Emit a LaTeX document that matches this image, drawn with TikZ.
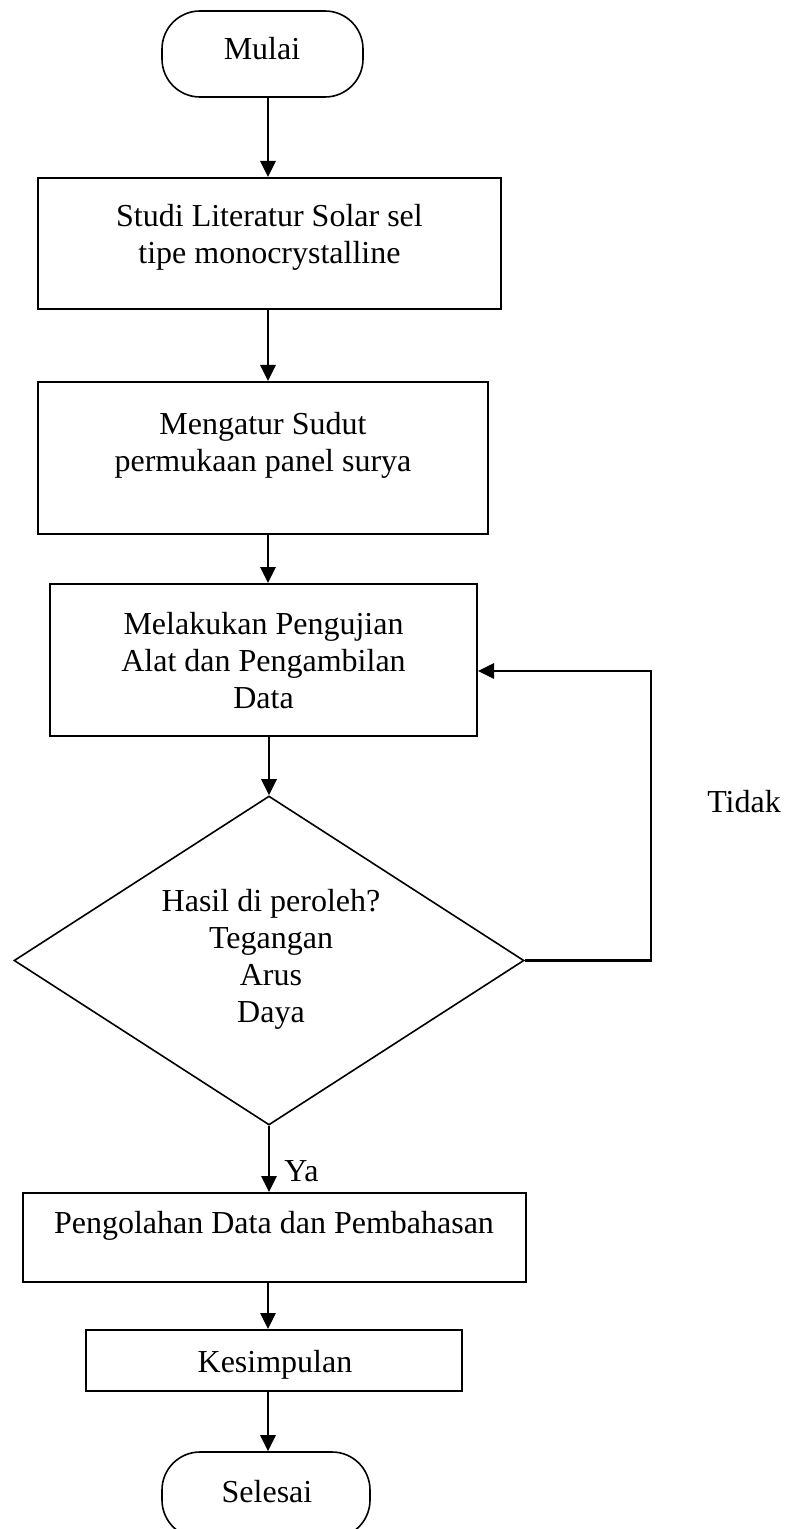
\documentclass[tikz,border=0pt]{standalone}
\usepackage{fontspec}
\setmainfont{Liberation Serif}
\usetikzlibrary{shapes.geometric,arrows.meta}
\begin{document}
\begin{tikzpicture}[x=0.5pt,y=-0.5pt,
 proses/.style={draw,line width=1pt,inner sep=0pt},
 ujung/.style={draw,line width=0.8pt,rounded corners=19pt,inner sep=0pt},
 putusan/.style={draw,diamond,line width=0.8pt,inner sep=0pt},
 teks/.style={align=center,font=\fontsize{16}{18.5}\selectfont},
 panah/.style={line width=1.4pt,-{Triangle[length=8pt,width=7.5pt]}}]
 \useasboundingbox (0,0) rectangle (790,1529);
 \coordinate (sumbu) at (268,0);
 \node[ujung,minimum width=100.5pt,minimum height=43pt] (mulai) at (262.5,54) {};
 \node[proses,minimum width=231.5pt,minimum height=65.5pt] (b1) at (269.5,243.5) {};
 \node[proses,minimum width=225pt,minimum height=76pt] (b2) at (263,458) {};
 \node[proses,minimum width=213.5pt,minimum height=76pt] (b3) at (263.5,660) {};
 \node[putusan,minimum width=255pt,minimum height=164.5pt] (hasil) at (269,960.5) {};
 \node[proses,minimum width=251.5pt,minimum height=44.5pt] (b4) at (274.5,1237.5) {};
 \node[proses,minimum width=188pt,minimum height=30.5pt] (b5) at (274,1360.5) {};
 \node[ujung,minimum width=104pt,minimum height=43pt] (selesai) at (266,1495) {};
 \node[teks] (tmulai) at (262,49) {Mulai};
 \node[teks] (tb1) at (269.5,237) {Studi Literatur Solar sel\\tipe monocrystalline};
 \node[teks] (tb2) at (263,445.5) {Mengatur Sudut\\permukaan panel surya};
 \node[teks] (tb3) at (263.5,660.5) {Melakukan Pengujian\\Alat dan Pengambilan\\Data};
 \node[teks] (thasil) at (271,959) {Hasil di peroleh?\\Tegangan\\Arus\\Daya};
 \node[teks] (tb4) at (274,1225.5) {Pengolahan Data dan Pembahasan};
 \node[teks] (tb5) at (275,1364.5) {Kesimpulan};
 \node[teks] (tselesai) at (267,1492) {Selesai};
 \node[teks] (tidak) at (744,802) {Tidak};
 \node[teks] (ya) at (301.5,1171.5) {Ya};
 \coordinate (balik) at (651,671);
 \draw[panah] (mulai.south -| sumbu) -- (b1.north -| sumbu);
 \draw[panah] (b1.south -| sumbu) -- (b2.north -| sumbu);
 \draw[panah] (b2.south -| sumbu) -- (b3.north -| sumbu);
 \draw[panah] (b3.south -| hasil.north) -- (hasil.north);
 \draw[panah] (hasil.south) -- (b4.north -| hasil.south);
 \draw[panah] (b4.south -| sumbu) -- (b5.north -| sumbu);
 \draw[panah] (b5.south -| sumbu) -- (selesai.north -| sumbu);
 \draw[panah] (hasil.east) -| (balik) -- (b3.east |- balik);
\end{tikzpicture}
\end{document}
